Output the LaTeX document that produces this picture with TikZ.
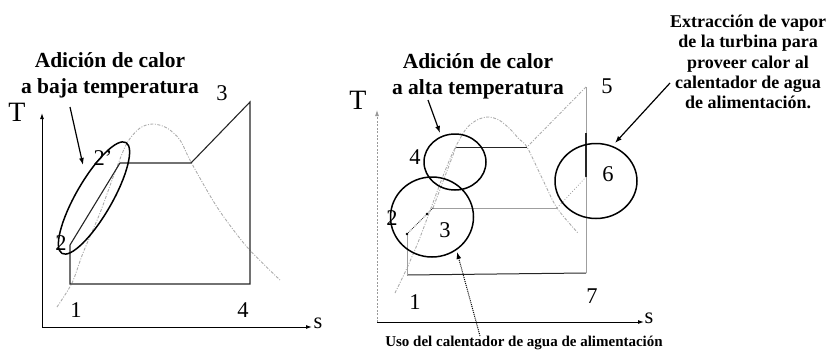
\documentclass[tikz,border=0pt]{standalone}
\usepackage{fontspec}
\setmainfont{Liberation Serif}
\usetikzlibrary{arrows.meta}
\begin{document}
\begin{tikzpicture}[x=1pt,y=-1pt,
  cyc/.style={line width=1.1pt, black!85},
  thinl/.style={line width=0.7pt, gray!75},
  dome/.style={line width=0.9pt, gray!65, dash pattern=on 3pt off 1.5pt on 1pt off 1.5pt},
  ring/.style={line width=1.5pt, black},
  ann/.style={font=\fontsize{21.5}{25.5}\selectfont\bfseries, align=center, inner sep=0pt},
  annb/.style={font=\fontsize{18}{20.3}\selectfont\bfseries, align=center, inner sep=0pt},
  annc/.style={font=\fontsize{15}{18}\selectfont\bfseries, inner sep=0pt},
  num/.style={font=\fontsize{22.5}{26}\selectfont, inner sep=0pt},
  bigT/.style={font=\fontsize{28}{30}\selectfont, inner sep=0pt},
  axis/.style={line width=1pt, -{Latex[length=6pt,width=4pt]}},
  callout/.style={line width=1.2pt, -{Latex[length=7pt,width=5pt]}},
]
\useasboundingbox (0,0) rectangle (827,356);

% ---------------- left diagram ----------------
\coordinate (Lo) at (42,327);
\coordinate (Ly) at (42,113);
\coordinate (Lx) at (312,327);
\draw[axis] (Lo) -- (Ly);
\draw[axis] (Lo) -- (Lx);
\node[bigT] (LT) at (17,112) {T};
\node[num] (Ls) at (318,323) {s};

\draw[dome] plot[smooth] coordinates {(57,307) (72,283) (83,253) (100,213) (115,172) (127,143) (140,128) (153,124) (167,128) (180,140) (191,162) (217,207) (247,247) (280,280)};

\coordinate (L1) at (70,284);
\coordinate (L2) at (70,245);
\coordinate (L2p) at (120,163);
\coordinate (Lg) at (191,163);
\coordinate (L3) at (250,102);
\coordinate (L4) at (250,284);
\draw[cyc] (L1) -- (L2) -- (L2p) -- (Lg) -- (L3) -- (L4) -- cycle;

\draw[ring, rotate around={60:(94,198)}] (94,198) ellipse (64 and 18);

\node[num] (n1) at (76,310) {1};
\node[num] (n2) at (61,243) {2};
\node[num] (n2p) at (103,158) {2'};
\node[num] (n3) at (222,93) {3};
\node[num] (n4) at (243,310) {4};

\node[ann] (La) at (110,75.5) {Adición de calor\\a baja temperatura};
\coordinate (LaS) at (70,107);
\coordinate (LaT) at (83,165);
\draw[callout] (LaS) -- (LaT);

% ---------------- right diagram ----------------
\coordinate (Ro) at (377,322);
\coordinate (Ry) at (377,110);
\coordinate (Rx) at (644,322);
\draw[line width=0.8pt, gray!80, dash pattern=on 2pt off 1.5pt, -{Latex[length=6pt,width=4pt]}] (Ro) -- (Ry);
\draw[axis] (Ro) -- (Rx);
\node[bigT] (RT) at (358,100) {T};
\node[num] (Rs) at (649,318) {s};

\draw[dome] plot[smooth] coordinates {(395,293) (407,268) (419,240) (431,208) (443,176) (454,150) (466,129) (477,120) (488,117) (499,120) (510,129) (519,139) (527,147) (542,178) (557,208) (578,233)};

\coordinate (R1) at (407,275);
\coordinate (R2) at (407,234);
\coordinate (R3) at (433,208);
\coordinate (R4) at (456,147);
\coordinate (Rg) at (527,147);
\coordinate (R5) at (586,87);
\coordinate (R6t) at (586,133);
\coordinate (R6) at (586,177);
\coordinate (R7) at (586,273);
\coordinate (Rf) at (557,208);

\draw[cyc, line width=1pt] (R1) -- (R7);
\draw[thinl] (R7) -- (R5);
\draw[cyc, line width=1.2pt] (R6t) -- (R6);
\draw[dome] (R5) -- (Rg);
\draw[cyc, line width=0.9pt] (R4) -- (Rg);
\draw[dome] (R3) -- (R4);
\draw[thinl] (R3) -- (Rf);
\draw[gray!80, line width=0.8pt, dotted] (Rf) -- (R6);
\draw[thinl] (R1) -- (R2);
\draw[black!80, line width=0.8pt, densely dotted] (R2) -- (R3);
\fill (R2) circle (1.4);
\fill (427,214) circle (1.4);

\draw[ring] (455,162) ellipse (31 and 28);
\draw[ring] (432,217) ellipse (41.5 and 40);
\draw[ring] (596,181) ellipse (41 and 37.5);

\node[num] (m1) at (415,302) {1};
\node[num] (m2) at (392,218) {2};
\node[num] (m3) at (445,230) {3};
\node[num] (m4) at (415,157) {4};
\node[num] (m5) at (607,86) {5};
\node[num] (m6) at (608,174) {6};
\node[num] (m7) at (592,296) {7};

\node[ann] (Ra) at (478,76.5) {Adición de calor\\a alta temperatura};
\coordinate (RaS) at (428,100);
\coordinate (RaT) at (440,133);
\draw[callout] (RaS) -- (RaT);

\node[annb] (Rb) at (748,62) {Extracción de vapor\\de la turbina para\\proveer calor al\\calentador de agua\\de alimentación.};
\coordinate (RbS) at (670,83);
\coordinate (RbT) at (615,143);
\draw[callout] (RbS) -- (RbT);

\node[annc] (Rc) at (524,343) {Uso del calentador de agua de alimentación};
\coordinate (RcS) at (480,336);
\coordinate (RcT) at (457,252);
\draw[line width=1pt, densely dotted, -{Latex[length=7pt,width=5pt]}] (RcS) -- (RcT);
\end{tikzpicture}
\end{document}
